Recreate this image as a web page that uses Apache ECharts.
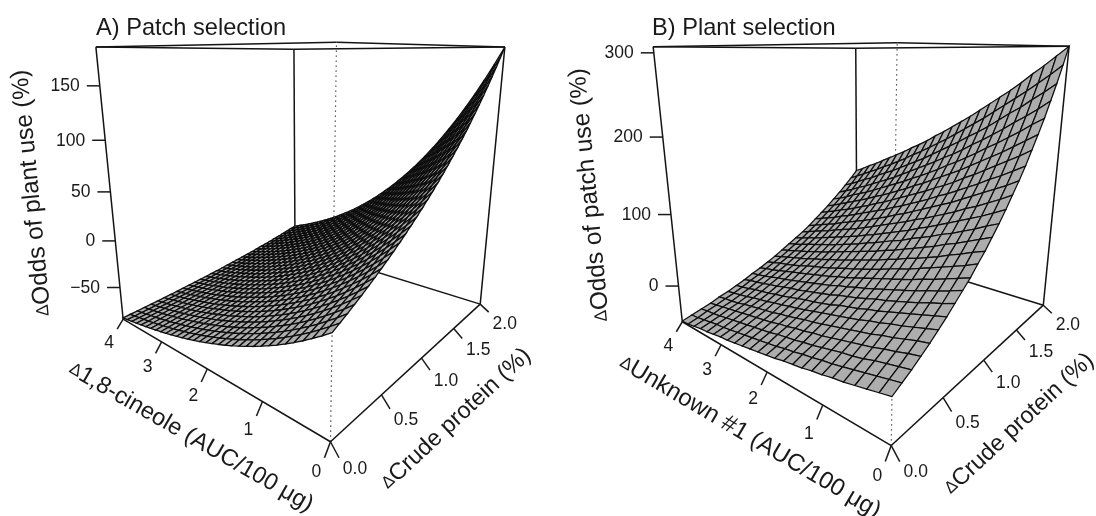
<!DOCTYPE html>
<html><head><meta charset="utf-8">
<style>html,body{margin:0;padding:0;background:#fff}#c{width:1096px;height:516px}</style>
<script src="https://cdn.jsdelivr.net/npm/echarts@6/dist/echarts.min.js"></script>
</head><body><div id="c"></div>
<script>
const compoundTicks=[0,1,2,3,4];
const proteinTicks=[0,0.5,1,1.5,2];
const proteinTickLabels=['0.0','0.5','1.0','1.5','2.0'];
const oddsTicksA=[-50,0,50,100,150];
const oddsTicksB=[0,100,200,300];
const oddsRangeA=[-85.5,184];
const oddsRangeB=[-53,307];
// rows: crude protein 0..2 ; columns: compound 0..4
const surfaceA=[
[0,-5.6,-10.8,-15.8,-20.5,-24.9,-29.1,-33,-36.7,-40.3,-43.6,-46.7,-49.7,-52.5,-55.1,-57.6,-60,-62.2,-64.3,-66.3,-68.2,-69.9,-71.6,-73.2,-74.7,-76.1,-77.4,-78.7,-79.8,-81,-82,-83,-84],
[3.3,-2.4,-7.8,-13,-17.8,-22.4,-26.7,-30.8,-34.6,-38.3,-41.7,-45,-48,-50.9,-53.6,-56.2,-58.6,-60.9,-63.1,-65.2,-67.1,-68.9,-70.7,-72.3,-73.8,-75.3,-76.7,-78,-79.2,-80.3,-81.4,-82.5,-83.4],
[6.7,0.8,-4.8,-10.1,-15.1,-19.8,-24.3,-28.5,-32.5,-36.2,-39.8,-43.1,-46.3,-49.3,-52.1,-54.8,-57.3,-59.7,-61.9,-64,-66,-67.9,-69.7,-71.4,-73,-74.5,-75.9,-77.2,-78.5,-79.7,-80.8,-81.9,-82.9],
[10.3,4.1,-1.6,-7.1,-12.3,-17.2,-21.8,-26.1,-30.2,-34.1,-37.8,-41.2,-44.5,-47.6,-50.5,-53.3,-55.9,-58.3,-60.6,-62.8,-64.9,-66.8,-68.7,-70.4,-72.1,-73.6,-75.1,-76.5,-77.8,-79,-80.2,-81.3,-82.3],
[13.9,7.6,1.6,-4,-9.4,-14.4,-19.2,-23.7,-27.9,-31.9,-35.7,-39.3,-42.7,-45.9,-48.9,-51.7,-54.4,-56.9,-59.3,-61.6,-63.7,-65.7,-67.6,-69.4,-71.1,-72.7,-74.3,-75.7,-77,-78.3,-79.5,-80.7,-81.7],
[17.7,11.2,5,-0.8,-6.4,-11.6,-16.5,-21.1,-25.5,-29.7,-33.6,-37.3,-40.8,-44.1,-47.2,-50.1,-52.9,-55.5,-58,-60.3,-62.5,-64.6,-66.6,-68.4,-70.2,-71.8,-73.4,-74.9,-76.3,-77.6,-78.8,-80,-81.1],
[21.6,14.9,8.5,2.4,-3.3,-8.6,-13.7,-18.5,-23.1,-27.3,-31.4,-35.2,-38.8,-42.2,-45.4,-48.5,-51.3,-54,-56.6,-59,-61.3,-63.4,-65.5,-67.4,-69.2,-70.9,-72.5,-74.1,-75.5,-76.9,-78.1,-79.4,-80.5],
[25.7,18.7,12.1,5.9,0,-5.6,-10.9,-15.8,-20.5,-24.9,-29.1,-33,-36.8,-40.3,-43.6,-46.7,-49.7,-52.5,-55.1,-57.6,-60,-62.2,-64.3,-66.3,-68.2,-69.9,-71.6,-73.2,-74.7,-76.1,-77.4,-78.7,-79.9],
[29.8,22.6,15.8,9.3,3.3,-2.5,-7.9,-13,-17.9,-22.4,-26.8,-30.8,-34.7,-38.3,-41.7,-45,-48,-50.9,-53.7,-56.2,-58.7,-61,-63.1,-65.2,-67.1,-68.9,-70.7,-72.3,-73.8,-75.3,-76.7,-78,-79.2],
[34.1,26.7,19.6,13,6.7,0.7,-4.9,-10.1,-15.1,-19.9,-24.3,-28.5,-32.5,-36.3,-39.8,-43.2,-46.3,-49.3,-52.1,-54.8,-57.3,-59.7,-61.9,-64,-66,-67.9,-69.7,-71.4,-73,-74.5,-75.9,-77.2,-78.5],
[38.6,30.9,23.6,16.7,10.2,4.1,-1.7,-7.2,-12.3,-17.2,-21.8,-26.2,-30.3,-34.1,-37.8,-41.3,-44.5,-47.6,-50.5,-53.3,-55.9,-58.3,-60.6,-62.8,-64.9,-66.9,-68.7,-70.4,-72.1,-73.6,-75.1,-76.5,-77.8],
[43.2,35.2,27.7,20.6,13.9,7.5,1.6,-4.1,-9.4,-14.5,-19.2,-23.7,-28,-32,-35.7,-39.3,-42.7,-45.9,-48.9,-51.7,-54.4,-56.9,-59.3,-61.6,-63.7,-65.8,-67.7,-69.5,-71.1,-72.8,-74.3,-75.7,-77.1],
[47.9,39.7,31.9,24.6,17.7,11.1,4.9,-0.9,-6.4,-11.6,-16.5,-21.2,-25.6,-29.7,-33.6,-37.3,-40.8,-44.1,-47.2,-50.1,-52.9,-55.5,-58,-60.3,-62.5,-64.6,-66.6,-68.4,-70.2,-71.8,-73.4,-74.9,-76.3],
[52.8,44.3,36.3,28.7,21.6,14.8,8.4,2.4,-3.3,-8.7,-13.8,-18.6,-23.1,-27.4,-31.4,-35.2,-38.8,-42.2,-45.4,-48.5,-51.3,-54,-56.6,-59,-61.3,-63.4,-65.5,-67.4,-69.2,-70.9,-72.5,-74.1,-75.5],
[57.9,49.1,40.8,33,25.6,18.6,12,5.8,-0.1,-5.7,-10.9,-15.9,-20.5,-25,-29.1,-33.1,-36.8,-40.3,-43.6,-46.8,-49.7,-52.5,-55.2,-57.6,-60,-62.2,-64.3,-66.3,-68.2,-69.9,-71.6,-73.2,-74.7],
[63.2,54.1,45.5,37.4,29.8,22.5,15.7,9.3,3.2,-2.5,-8,-13.1,-17.9,-22.5,-26.8,-30.9,-34.7,-38.3,-41.8,-45,-48.1,-50.9,-53.7,-56.2,-58.7,-61,-63.1,-65.2,-67.1,-69,-70.7,-72.3,-73.9],
[68.5,59.2,50.3,42,34.1,26.6,19.5,12.9,6.6,0.7,-4.9,-10.2,-15.2,-19.9,-24.4,-28.6,-32.5,-36.3,-39.8,-43.2,-46.3,-49.3,-52.1,-54.8,-57.3,-59.7,-61.9,-64,-66,-67.9,-69.7,-71.4,-73],
[74.1,64.4,55.3,46.7,38.5,30.8,23.5,16.6,10.2,4,-1.8,-7.2,-12.4,-17.3,-21.9,-26.2,-30.3,-34.2,-37.8,-41.3,-44.6,-47.6,-50.5,-53.3,-55.9,-58.3,-60.7,-62.9,-64.9,-66.9,-68.7,-70.4,-72.1],
[79.9,69.9,60.5,51.5,43.1,35.1,27.6,20.5,13.8,7.5,1.5,-4.1,-9.5,-14.5,-19.3,-23.8,-28,-32,-35.8,-39.3,-42.7,-45.9,-48.9,-51.7,-54.4,-57,-59.4,-61.6,-63.7,-65.8,-67.7,-69.5,-71.2],
[85.9,75.5,65.8,56.6,47.9,39.6,31.8,24.5,17.6,11,4.9,-1,-6.5,-11.7,-16.6,-21.2,-25.6,-29.7,-33.6,-37.3,-40.8,-44.1,-47.2,-50.1,-52.9,-55.5,-58,-60.4,-62.5,-64.6,-66.6,-68.5,-70.2],
[92.1,81.4,71.3,61.8,52.8,44.2,36.2,28.7,21.5,14.7,8.4,2.3,-3.4,-8.7,-13.8,-18.6,-23.1,-27.4,-31.4,-35.2,-38.9,-42.3,-45.5,-48.5,-51.4,-54,-56.6,-59,-61.3,-63.5,-65.5,-67.4,-69.2],
[98.4,87.4,77,67.1,57.8,49,40.7,32.9,25.5,18.5,11.9,5.7,-0.2,-5.7,-10.9,-15.9,-20.6,-25,-29.2,-33.1,-36.8,-40.3,-43.6,-46.8,-49.7,-52.5,-55.2,-57.7,-60,-62.2,-64.3,-66.3,-68.2],
[105,93.6,82.9,72.7,63.1,54,45.4,37.3,29.7,22.5,15.7,9.2,3.2,-2.6,-8,-13.1,-17.9,-22.5,-26.8,-30.9,-34.7,-38.4,-41.8,-45,-48.1,-51,-53.7,-56.3,-58.7,-61,-63.2,-65.2,-67.2],
[111.8,100,88.9,78.4,68.5,59.1,50.2,41.9,34,26.5,19.5,12.9,6.6,0.7,-4.9,-10.2,-15.2,-19.9,-24.4,-28.6,-32.6,-36.3,-39.8,-43.2,-46.3,-49.3,-52.2,-54.8,-57.3,-59.7,-61.9,-64.1,-66.1],
[118.8,106.6,95.2,84.3,74,64.4,55.2,46.6,38.4,30.7,23.5,16.6,10.1,4,-1.8,-7.3,-12.4,-17.3,-21.9,-26.2,-30.3,-34.2,-37.9,-41.3,-44.6,-47.7,-50.6,-53.3,-55.9,-58.4,-60.7,-62.9,-64.9],
[126.1,113.5,101.6,90.4,79.8,69.8,60.4,51.4,43,35.1,27.5,20.4,13.8,7.4,1.5,-4.2,-9.5,-14.5,-19.3,-23.8,-28,-32,-35.8,-39.4,-42.7,-45.9,-48.9,-51.8,-54.4,-57,-59.4,-61.6,-63.8],
[133.6,120.6,108.3,96.7,85.8,75.4,65.7,56.5,47.8,39.5,31.8,24.4,17.5,11,4.8,-1,-6.5,-11.7,-16.6,-21.2,-25.6,-29.8,-33.7,-37.4,-40.8,-44.1,-47.2,-50.2,-52.9,-55.6,-58,-60.4,-62.6],
[141.3,127.9,115.2,103.3,91.9,81.3,71.2,61.7,52.7,44.2,36.2,28.6,21.4,14.7,8.3,2.3,-3.4,-8.8,-13.9,-18.6,-23.2,-27.4,-31.5,-35.3,-38.9,-42.3,-45.5,-48.5,-51.4,-54.1,-56.6,-59,-61.3],
[149.3,135.5,122.4,110,98.3,87.3,76.9,67,57.7,49,40.7,32.8,25.5,18.5,11.9,5.7,-0.2,-5.8,-11,-15.9,-20.6,-25,-29.2,-33.1,-36.8,-40.4,-43.7,-46.8,-49.8,-52.6,-55.2,-57.7,-60.1],
[157.6,143.3,129.8,117,104.9,93.5,82.7,72.6,63,53.9,45.3,37.3,29.6,22.4,15.6,9.2,3.1,-2.6,-8,-13.1,-18,-22.5,-26.8,-30.9,-34.8,-38.4,-41.8,-45.1,-48.1,-51,-53.7,-56.3,-58.7],
[166.2,151.4,137.4,124.2,111.7,99.9,88.8,78.3,68.4,59,50.2,41.8,33.9,26.5,19.4,12.8,6.5,0.6,-5,-10.3,-15.3,-20,-24.4,-28.6,-32.6,-36.3,-39.9,-43.2,-46.4,-49.4,-52.2,-54.8,-57.4],
[175,159.7,145.3,131.6,118.7,106.5,95,84.2,74,64.3,55.1,46.5,38.4,30.7,23.4,16.5,10.1,3.9,-1.8,-7.3,-12.4,-17.3,-21.9,-26.2,-30.3,-34.2,-37.9,-41.3,-44.6,-47.7,-50.6,-53.3,-55.9],
[184,168.2,153.3,139.2,125.9,113.3,101.4,90.3,79.7,69.7,60.2,51.3,42.9,35,27.5,20.4,13.7,7.4,1.4,-4.2,-9.6,-14.6,-19.3,-23.8,-28.1,-32.1,-35.8,-39.4,-42.8,-46,-49,-51.8,-54.5]
];
const surfaceB=[
[0,-3,-6,-9,-12,-14,-17,-19,-22,-24,-26,-29,-31,-33,-35,-37,-39,-41,-42,-44,-46,-47,-49,-51,-52],
[6,3,0,-3,-6,-9,-12,-14,-17,-19,-22,-24,-27,-29,-31,-33,-35,-37,-39,-41,-42,-44,-46,-48,-49],
[12,9,6,3,-1,-4,-6,-9,-12,-15,-17,-20,-22,-24,-27,-29,-31,-33,-35,-37,-39,-41,-43,-44,-46],
[19,16,12,9,5,2,-1,-4,-7,-10,-12,-15,-17,-20,-22,-25,-27,-29,-31,-33,-35,-37,-39,-41,-43],
[26,23,19,15,12,8,5,2,-1,-4,-7,-10,-12,-15,-18,-20,-23,-25,-27,-29,-31,-34,-36,-37,-39],
[34,30,26,22,19,15,12,8,5,2,-1,-4,-7,-10,-13,-15,-18,-20,-23,-25,-27,-30,-32,-34,-36],
[42,38,34,30,26,22,18,15,11,8,5,1,-2,-5,-7,-10,-13,-16,-18,-21,-23,-25,-28,-30,-32],
[51,46,42,37,33,29,25,22,18,14,11,8,4,1,-2,-5,-8,-10,-13,-16,-18,-21,-23,-25,-28],
[60,55,50,46,41,37,33,29,25,21,18,14,11,7,4,1,-2,-5,-8,-11,-13,-16,-19,-21,-23],
[69,64,59,54,50,45,41,37,33,29,25,21,17,14,10,7,4,1,-2,-5,-8,-11,-14,-16,-19],
[80,74,69,64,59,54,49,45,41,36,32,28,24,21,17,13,10,7,4,0,-3,-6,-8,-11,-14],
[90,85,79,74,68,63,58,54,49,45,40,36,32,28,24,20,17,13,10,6,3,0,-3,-6,-9],
[102,96,90,84,79,73,68,63,58,53,49,44,40,36,32,28,24,20,16,13,9,6,3,0,-3],
[114,108,101,95,89,84,78,73,68,62,58,53,48,44,39,35,31,27,23,20,16,13,9,6,3],
[127,120,113,107,101,95,89,83,78,72,67,62,57,52,48,43,39,35,31,27,23,19,16,12,9],
[141,133,126,119,113,106,100,94,88,83,77,72,67,62,57,52,47,43,39,35,30,27,23,19,15],
[155,147,140,133,126,119,112,106,100,94,88,82,77,71,66,61,56,52,47,43,38,34,30,26,22],
[170,162,154,147,139,132,125,118,112,105,99,93,87,82,76,71,66,61,56,51,47,42,38,34,30],
[187,178,170,162,154,146,139,131,124,118,111,105,99,93,87,81,76,70,65,60,55,51,46,42,38],
[204,195,186,177,169,161,153,145,138,131,124,117,111,104,98,92,86,81,75,70,65,60,55,50,46],
[222,213,203,194,185,177,168,160,152,145,137,130,123,117,110,104,98,92,86,80,75,70,64,59,55],
[242,231,221,212,202,193,184,176,167,159,152,144,137,130,123,116,109,103,97,91,85,80,74,69,64],
[262,251,241,230,221,211,201,192,184,175,167,159,151,143,136,129,122,115,109,103,96,91,85,79,74],
[284,272,261,250,240,230,220,210,201,192,183,174,166,158,150,143,135,128,121,115,108,102,96,90,84],
[307,295,283,272,260,249,239,229,219,209,200,191,182,174,165,157,150,142,135,128,121,114,108,101,95]
];
const cornersA={F:[331,443],L:[123,318],R:[480,303],K:[295,248],TF:[336,43],TL:[96,47],TR:[505,47],TK:[294,49]};
const cornersB={F:[892,446],L:[682,321],R:[1043,305],K:[857,248],TF:[897,43],TL:[653,47],TR:[1069,46],TK:[856,48]};
const FONT='"Liberation Sans", Arial, Helvetica, sans-serif';

function solve(A,b){const n=b.length;for(let c=0;c<n;c++){let p=c;for(let r=c+1;r<n;r++)if(Math.abs(A[r][c])>Math.abs(A[p][c]))p=r;[A[c],A[p]]=[A[p],A[c]];[b[c],b[p]]=[b[p],b[c]];for(let r=c+1;r<n;r++){const f=A[r][c]/A[c][c];for(let k=c;k<n;k++)A[r][k]-=f*A[c][k];b[r]-=f*b[c];}}
const x=new Array(n);for(let r=n-1;r>=0;r--){let s=b[r];for(let k=r+1;k<n;k++)s-=A[r][k]*x[k];x[r]=s/A[r][r];}return x;}
function camera(c,zr){
  const pts=[[0,0,0,c.F],[1,0,0,c.L],[0,1,0,c.R],[1,1,0,c.K],[0,0,1,c.TF],[1,0,1,c.TL],[0,1,1,c.TR],[1,1,1,c.TK]];
  const rows=[],rhs=[];
  pts.forEach(([u,v,w,p])=>{rows.push([u,v,w,1,0,0,0,0,-p[0]*u,-p[0]*v,-p[0]*w]);rhs.push(p[0]);rows.push([0,0,0,0,u,v,w,1,-p[1]*u,-p[1]*v,-p[1]*w]);rhs.push(p[1]);});
  const n=11,A=[],b=[];for(let i=0;i<n;i++){A.push(new Array(n).fill(0));b.push(0);}
  rows.forEach((r,k)=>{for(let i=0;i<n;i++){b[i]+=r[i]*rhs[k];for(let j=0;j<n;j++)A[i][j]+=r[i]*r[j];}});
  const m=solve(A,b);
  return (x,y,z)=>{const u=x/4,v=y/2,w=(z-zr[0])/(zr[1]-zr[0]);const d=m[8]*u+m[9]*v+m[10]*w+1;return [(m[0]*u+m[1]*v+m[2]*w+m[3])/d,(m[4]*u+m[5]*v+m[6]*w+m[7])/d];};
}
function lineSeries(name,segs,proj,style){
  return {type:'custom',name,silent:true,clip:false,animation:false,progressive:0,data:segs,
    renderItem:(p,api)=>{const a=api.coord(proj(api.value(0),api.value(1),api.value(2))),b=api.coord(proj(api.value(3),api.value(4),api.value(5)));
      return {type:'line',shape:{x1:a[0],y1:a[1],x2:b[0],y2:b[1]},style};}};
}
function surfaceSeries(name,table,proj,style){
  const nr=table.length-1,nc=table[0].length-1,data=[];
  for(let i=nc-1;i>=0;i--)for(let j=nr-1;j>=0;j--)
    data.push([4*i/nc,4*(i+1)/nc,2*j/nr,2*(j+1)/nr,table[j][i],table[j][i+1],table[j+1][i+1],table[j+1][i]]);
  return {type:'custom',name,silent:true,clip:false,animation:false,progressive:0,data,
    renderItem:(p,api)=>{const x0=api.value(0),x1=api.value(1),y0=api.value(2),y1=api.value(3);
      const q=[proj(x0,y0,api.value(4)),proj(x1,y0,api.value(5)),proj(x1,y1,api.value(6)),proj(x0,y1,api.value(7))].map(v=>api.coord(v));
      return {type:'polygon',shape:{points:q},style};}};
}
function tickSeries(name,ticks,proj){ // each tick: [x,y,z,dx,dy]
  return {type:'custom',name,silent:true,clip:false,animation:false,progressive:0,data:ticks,
    renderItem:(p,api)=>{const b=proj(api.value(0),api.value(1),api.value(2));const a=api.coord(b),c=api.coord([b[0]+api.value(3),b[1]+api.value(4)]);
      return {type:'line',shape:{x1:a[0],y1:a[1],x2:c[0],y2:c[1]},style:{stroke:'#1a1a1a',lineWidth:1.5}};}};
}
function textSeries(name,items){
  return {type:'custom',name,silent:true,clip:false,animation:false,progressive:0,data:items.map((t,i)=>[i]),
    renderItem:(p,api)=>{const t=items[api.value(0)],c=api.coord([t.x,t.y]);
      return {type:'text',x:c[0],y:c[1],rotation:(t.rot||0)*Math.PI/180,
        style:{text:t.text,fill:'#1a1a1a',fontFamily:FONT,fontSize:t.size,align:t.align||'center',verticalAlign:'middle',rich:{d:{fontSize:t.size*0.72,fontFamily:FONT,fill:'#1a1a1a'}}}};}};
}
function panel(tag,corners,zr,table,oddsTicks,cellLine,xTitle,zTitle,cpTitle){
  const P=camera(corners,zr),lo=zr[0],hi=zr[1];
  const box=[[4,0,hi,4,2,hi],[4,2,hi,0,2,hi],[4,0,hi,0,0,hi],[0,0,hi,0,2,hi],[4,0,lo,4,0,hi],[0,2,lo,0,2,hi],[4,2,lo,4,2,hi],[0,2,lo,4,2,lo],[0,0,lo,4,0,lo],[0,0,lo,0,2,lo]];
  const out=[];
  out.push(lineSeries(tag+' front edge',[[0,0,lo,0,0,hi]],P,{stroke:'#333',lineWidth:1.2,lineDash:[1.4,3.6]}));
  out.push(lineSeries(tag+' box',box,P,{stroke:'#141414',lineWidth:1.5}));
  out.push(surfaceSeries(tag+' surface',table,P,{fill:'#adadad',stroke:'#0e0e0e',lineWidth:cellLine}));
  const xt=compoundTicks.map(x=>[x,0,lo,-6,10+(4-x)*1.5]);
  const yt=proteinTicks.map(y=>[0,y,lo,8.5,16-4*y]);
  const zt=oddsTicks.map(z=>[4,0,z,-13,0]);
  out.push(tickSeries(tag+' ticks',xt.concat(yt,zt),P));
  const labels=[];
  compoundTicks.forEach(x=>{const b=P(x,0,lo);labels.push({text:String(x),x:b[0]-14,y:b[1]+24+(4-x)*1.6,size:17.5});});
  proteinTicks.forEach((y,i)=>{const b=P(0,y,lo);labels.push({text:proteinTickLabels[i],x:b[0]+24.5,y:b[1]+27-3.5*y,size:17.5});});
  oddsTicks.forEach(z=>{const b=P(4,0,z);labels.push({text:String(z).replace('-','\u2212'),x:b[0]-20,y:b[1]+0.5,size:17.5,align:'right'});});
  labels.push(xTitle,zTitle,cpTitle);
  out.push(textSeries(tag+' labels',labels));
  return out;
}
const series=[].concat(
  panel('A',cornersA,oddsRangeA,surfaceA,oddsTicksA,1.3,
    {text:'{d|\u0394}1,8-cineole (AUC/100 \u03bcg)',x:191,y:437,rot:-30,size:23.6},
    {text:'{d|\u0394}Odds of plant use (%)',x:32,y:193,rot:95.5,size:24.4},
    {text:'{d|\u0394}Crude protein (%)',x:456,y:419,rot:43,size:23.4}),
  panel('B',cornersB,oddsRangeB,surfaceB,oddsTicksB,1.25,
    {text:'{d|\u0394}Unknown #1 (AUC/100 \u03bcg)',x:750,y:437,rot:-30.5,size:24},
    {text:'{d|\u0394}Odds of patch use (%)',x:590,y:195,rot:95.5,size:24.4},
    {text:'{d|\u0394}Crude protein (%)',x:1019,y:424,rot:43,size:23.4})
);
const chart=echarts.init(document.getElementById('c'),null,{renderer:'canvas'});
chart.setOption({
  backgroundColor:'#fff',animation:false,
  title:[
    {text:'A) Patch selection',left:91,top:11,textStyle:{fontFamily:FONT,fontSize:23.6,fontWeight:'normal',color:'#1a1a1a'}},
    {text:'B) Plant selection',left:647,top:11,textStyle:{fontFamily:FONT,fontSize:23.6,fontWeight:'normal',color:'#1a1a1a'}}
  ],
  grid:{left:0,right:0,top:0,bottom:0},
  xAxis:{type:'value',min:0,max:1096,show:false},
  yAxis:{type:'value',min:0,max:516,inverse:true,show:false},
  tooltip:{show:false},
  series
});
</script></body></html>
